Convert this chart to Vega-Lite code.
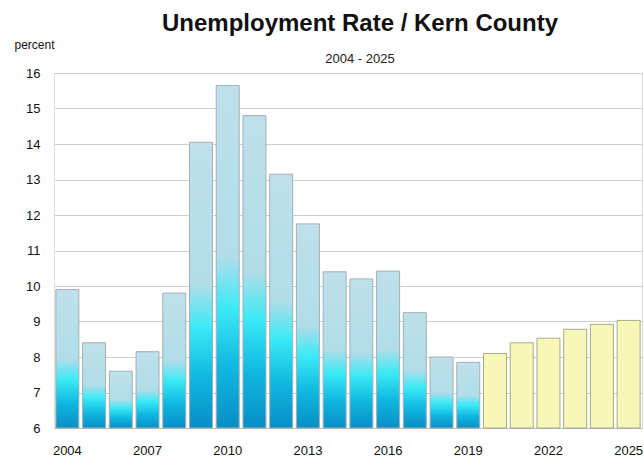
{
  "$schema": "https://vega.github.io/schema/vega-lite/v6.json",
  "width": 644,
  "height": 460,
  "autosize": {"type": "fit", "contains": "padding"},
  "padding": {"left": 14, "right": 2, "top": 12, "bottom": 3},
  "background": "white",
  "title": {
    "text": "Unemployment Rate / Kern County",
    "subtitle": "2004 - 2025",
    "font": "Liberation Sans",
    "fontSize": 24,
    "fontWeight": "bold",
    "color": "#111111",
    "subtitleFont": "Liberation Sans",
    "subtitleFontSize": 13,
    "subtitleColor": "#222222",
    "subtitlePadding": 17,
    "anchor": "middle",
    "frame": "group",
    "dx": 12,
    "offset": -28
  },
  "data": {
    "values": [
      {"year": 2004, "rate": 9.9, "kind": "actual"},
      {"year": 2005, "rate": 8.4, "kind": "actual"},
      {"year": 2006, "rate": 7.6, "kind": "actual"},
      {"year": 2007, "rate": 8.15, "kind": "actual"},
      {"year": 2008, "rate": 9.8, "kind": "actual"},
      {"year": 2009, "rate": 14.05, "kind": "actual"},
      {"year": 2010, "rate": 15.65, "kind": "actual"},
      {"year": 2011, "rate": 14.8, "kind": "actual"},
      {"year": 2012, "rate": 13.15, "kind": "actual"},
      {"year": 2013, "rate": 11.75, "kind": "actual"},
      {"year": 2014, "rate": 10.4, "kind": "actual"},
      {"year": 2015, "rate": 10.2, "kind": "actual"},
      {"year": 2016, "rate": 10.42, "kind": "actual"},
      {"year": 2017, "rate": 9.25, "kind": "actual"},
      {"year": 2018, "rate": 8.0, "kind": "actual"},
      {"year": 2019, "rate": 7.85, "kind": "actual"},
      {"year": 2020, "rate": 8.1, "kind": "forecast"},
      {"year": 2021, "rate": 8.4, "kind": "forecast"},
      {"year": 2022, "rate": 8.53, "kind": "forecast"},
      {"year": 2023, "rate": 8.78, "kind": "forecast"},
      {"year": 2024, "rate": 8.92, "kind": "forecast"},
      {"year": 2025, "rate": 9.03, "kind": "forecast"}
    ]
  },
  "encoding": {
    "x": {
      "field": "year",
      "type": "ordinal",
      "scale": {"paddingInner": 0.14, "paddingOuter": 0.07},
      "axis": {
        "title": null,
        "values": [2004, 2007, 2010, 2013, 2016, 2019, 2022, 2025],
        "labelAngle": 0,
        "labelFont": "Liberation Sans",
        "labelFontSize": 13,
        "labelColor": "#111111",
        "labelPadding": 16,
        "ticks": false,
        "domainColor": "#bbbbbb",
        "grid": false
      }
    },
    "y": {
      "field": "rate",
      "type": "quantitative",
      "scale": {"domain": [6, 16], "nice": false, "zero": false},
      "axis": {
        "title": "percent",
        "titleAngle": 0,
        "titleFont": "Liberation Sans",
        "titleFontSize": 12,
        "titleFontWeight": "normal",
        "titleColor": "#111111",
        "titleAlign": "left",
        "titleBaseline": "bottom",
        "titleX": -40,
        "titleY": -22,
        "values": [6, 7, 8, 9, 10, 11, 12, 13, 14, 15, 16],
        "labelFont": "Liberation Sans",
        "labelFontSize": 13,
        "labelColor": "#111111",
        "labelPadding": 14,
        "ticks": false,
        "domain": false,
        "grid": true,
        "gridColor": "#cfcfcf",
        "gridWidth": 1.2
      }
    },
    "y2": {"datum": 6}
  },
  "layer": [
    {
      "transform": [{"filter": "datum.kind === 'actual'"}],
      "mark": {
        "type": "bar",
        "stroke": "#a3b0b5",
        "strokeWidth": 1,
        "color": {
          "gradient": "linear",
          "x1": 0, "y1": 0, "x2": 0, "y2": 1,
          "stops": [
            {"offset": 0, "color": "#bfe0ea"},
            {"offset": 0.5, "color": "#b0dde9"},
            {"offset": 0.65, "color": "#3aeaf6"},
            {"offset": 0.82, "color": "#10b8e0"},
            {"offset": 1, "color": "#088ec6"}
          ]
        }
      }
    },
    {
      "transform": [{"filter": "datum.kind === 'forecast'"}],
      "mark": {
        "type": "bar",
        "color": "#f7f8b8",
        "stroke": "#a9aa8c",
        "strokeWidth": 1
      }
    }
  ]
}
